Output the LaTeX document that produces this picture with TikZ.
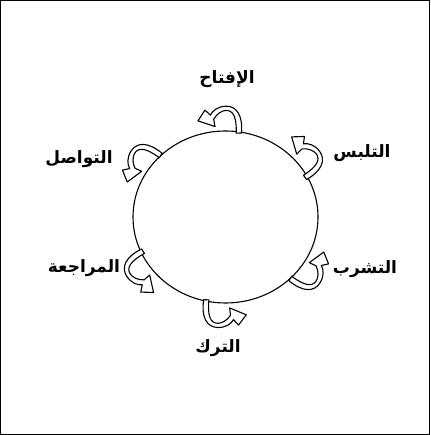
\documentclass[tikz,border=0pt]{standalone}
\usepackage{fontspec}
\usetikzlibrary{shapes.geometric}
\newfontfamily\arabicfont[Script=Arabic]{DejaVu Sans}
\TeXXeTstate=1
\newcommand{\cyclearrow}[2]{%
  \begin{scope}[shift={(#1)}, rotate=#2, scale=1.05]
    \filldraw[cyclearrowsty]
      (18,-3) .. controls (20,14) and (14,23) .. (4,23)
      .. controls (-4,23) and (-9,19) .. (-11,15)
      -- (-16,20) -- (-23,10) -- (-7,4) -- (-8,11)
      .. controls (-5,16) and (0,19) .. (4,19)
      .. controls (11,19) and (14,12) .. (13,-3) -- cycle;
  \end{scope}}
\begin{document}
\begin{tikzpicture}[x=1pt,y=1pt,
  cyclearrowsty/.style={fill=white, draw=black, line width=1.1pt, line join=round},
  lbl/.style={font=\arabicfont\bfseries\fontsize{17}{19}\selectfont, inner sep=1pt}]
\useasboundingbox (0,0) rectangle (430,435);
\draw[line width=0.8pt] (0.5,0.5) rectangle (429.5,434.5);
\node[draw, line width=1.1pt, ellipse, minimum width=185pt, minimum height=172pt, inner sep=0pt] (c) at (225.5,218) {};
\cyclearrow{c.92}{2}
\cyclearrow{c.37}{-53}
\cyclearrow{c.-33}{-123}
\cyclearrow{c.-92}{-182}
\cyclearrow{c.-147}{-237}
\cyclearrow{c.147}{57}
\node[lbl] (t1) at (227,356) {\beginR الإفتاح\endR};
\node[lbl] (t2) at (362,282) {\beginR التلبس\endR};
\node[lbl] (t3) at (365,166) {\beginR التشرب\endR};
\node[lbl] (t4) at (218,87) {\beginR الترك\endR};
\node[lbl] (t5) at (84,167) {\beginR المراجعة\endR};
\node[lbl] (t6) at (79,276) {\beginR التواصل\endR};
\end{tikzpicture}
\end{document}
